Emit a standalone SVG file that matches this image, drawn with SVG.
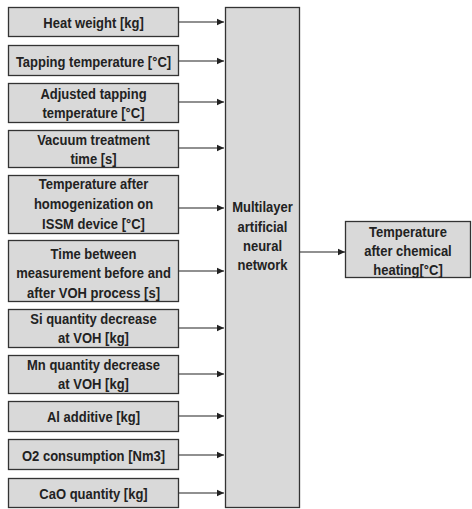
<svg xmlns="http://www.w3.org/2000/svg" width="472" height="509" viewBox="0 0 472 509">
<style>
.box{fill:#d9d9d9;stroke:#333;stroke-width:1.3}
text{font-family:"Liberation Sans Narrow","Liberation Sans",Arial,sans-serif;font-weight:bold;font-size:15.5px;fill:#222;text-anchor:middle}
.c line{stroke:#222;stroke-width:1.2}
</style>
<defs>
<marker id="ah" markerWidth="8" markerHeight="8" refX="7" refY="4" orient="auto" markerUnits="userSpaceOnUse">
<path d="M0,0.8 L7,4 L0,7.2 Z" fill="#222"/>
</marker>
</defs>
<g id="n1"><rect class="box" x="8.5" y="7.5" width="170" height="29"/><g transform="translate(93.5 0) scale(0.84 1)"><text x="0" y="28">Heat weight [kg]</text></g></g>
<g id="n2"><rect class="box" x="8.5" y="45.5" width="170" height="30"/><g transform="translate(93.5 0) scale(0.84 1)"><text x="0" y="67">Tapping temperature [°C]</text></g></g>
<g id="n3"><rect class="box" x="8.5" y="83.5" width="170" height="39"/><g transform="translate(93.5 0) scale(0.84 1)"><text x="0" y="99">Adjusted tapping</text><text x="0" y="118">temperature [°C]</text></g></g>
<g id="n4"><rect class="box" x="8.5" y="130.5" width="170" height="37"/><g transform="translate(93.5 0) scale(0.84 1)"><text x="0" y="145">Vacuum treatment</text><text x="0" y="164">time [s]</text></g></g>
<g id="n5"><rect class="box" x="8.5" y="175.5" width="170" height="58"/><g transform="translate(93.5 0) scale(0.84 1)"><text x="0" y="189">Temperature after</text><text x="0" y="209">homogenization on</text><text x="0" y="229">ISSM device [°C]</text></g></g>
<g id="n6"><rect class="box" x="8.5" y="240.5" width="170" height="61"/><g transform="translate(93.5 0) scale(0.84 1)"><text x="0" y="259">Time between</text><text x="0" y="278">measurement before and</text><text x="0" y="298">after VOH process [s]</text></g></g>
<g id="n7"><rect class="box" x="8.5" y="309.5" width="170" height="38"/><g transform="translate(93.5 0) scale(0.84 1)"><text x="0" y="324">Si quantity decrease</text><text x="0" y="343">at VOH [kg]</text></g></g>
<g id="n8"><rect class="box" x="8.5" y="355.5" width="170" height="38"/><g transform="translate(93.5 0) scale(0.84 1)"><text x="0" y="370">Mn quantity decrease</text><text x="0" y="389">at VOH [kg]</text></g></g>
<g id="n9"><rect class="box" x="8.5" y="401.5" width="170" height="30"/><g transform="translate(93.5 0) scale(0.84 1)"><text x="0" y="422">Al additive [kg]</text></g></g>
<g id="n10"><rect class="box" x="8.5" y="439.5" width="170" height="30"/><g transform="translate(93.5 0) scale(0.84 1)"><text x="0" y="461">O2 consumption [Nm3]</text></g></g>
<g id="n11"><rect class="box" x="8.5" y="478.5" width="170" height="29"/><g transform="translate(93.5 0) scale(0.84 1)"><text x="0" y="499">CaO quantity [kg]</text></g></g>
<g id="ann"><rect class="box" x="225.5" y="7.5" width="74" height="500"/><g transform="translate(262.5 0) scale(0.84 1)"><text x="0" y="212">Multilayer</text><text x="0" y="232">artificial</text><text x="0" y="251">neural</text><text x="0" y="270">network</text></g></g>
<g id="out"><rect class="box" x="345.5" y="221.5" width="125" height="56"/><g transform="translate(408 0) scale(0.84 1)"><text x="0" y="237">Temperature</text><text x="0" y="256">after chemical</text><text x="0" y="275">heating[°C]</text></g></g>
<g class="c" id="connectors">
<line x1="179" y1="22" x2="224" y2="22" marker-end="url(#ah)"/>
<line x1="179" y1="61" x2="224" y2="61" marker-end="url(#ah)"/>
<line x1="179" y1="102" x2="224" y2="102" marker-end="url(#ah)"/>
<line x1="179" y1="148" x2="224" y2="148" marker-end="url(#ah)"/>
<line x1="179" y1="208" x2="224" y2="208" marker-end="url(#ah)"/>
<line x1="179" y1="271" x2="224" y2="271" marker-end="url(#ah)"/>
<line x1="179" y1="328" x2="224" y2="328" marker-end="url(#ah)"/>
<line x1="179" y1="374" x2="224" y2="374" marker-end="url(#ah)"/>
<line x1="179" y1="416" x2="224" y2="416" marker-end="url(#ah)"/>
<line x1="179" y1="455" x2="224" y2="455" marker-end="url(#ah)"/>
<line x1="179" y1="493" x2="224" y2="493" marker-end="url(#ah)"/>
<line x1="300" y1="252" x2="345" y2="252" marker-end="url(#ah)"/>
</g>
</svg>
